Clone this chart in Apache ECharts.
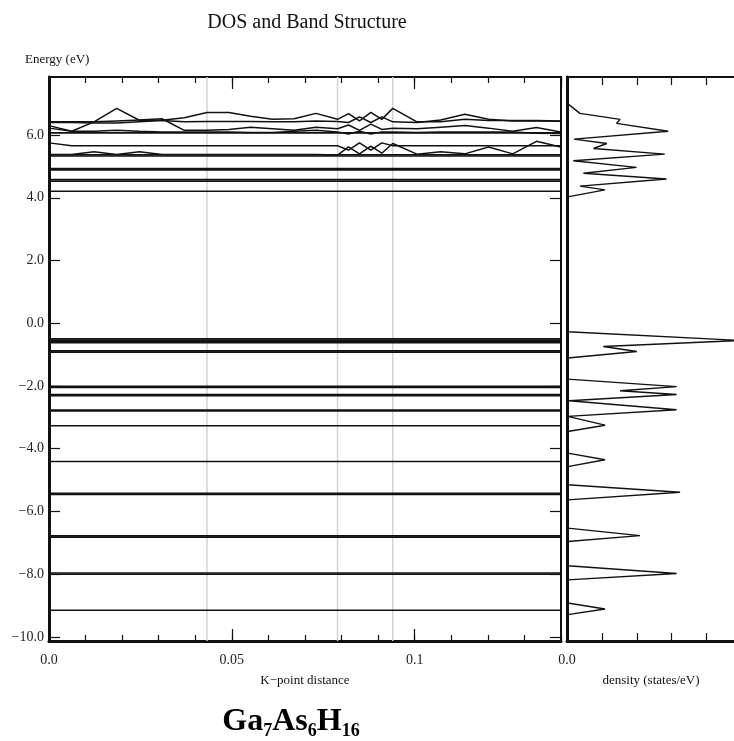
<!DOCTYPE html>
<html><head><meta charset="utf-8">
<script src="https://cdn.jsdelivr.net/npm/echarts@6/dist/echarts.min.js"></script>
<style>html,body{margin:0;padding:0;background:#fff}#c{width:734px;height:741px}</style>
</head><body><div id="c"></div>
<script>
// ---------- data ----------
const kPoints = [0, 0.0062, 0.0123, 0.0185, 0.0247, 0.0309, 0.0370, 0.0432, 0.0492, 0.0551, 0.0611, 0.0670, 0.0730, 0.0789, 0.0819, 0.0849, 0.0880, 0.0910, 0.0940, 0.1006, 0.1071, 0.1137, 0.1202, 0.1268, 0.1333, 0.1399];
const kBoundaries = [0.0432, 0.0789, 0.0940];
const kTickLabels = [0, 0.05, 0.1];
const energyTicks = [-10, -8, -6, -4, -2, 0, 2, 4, 6];
const densityTickLabels = [0];

// flat (dispersionless) bands, eV
const flatBands = [4.21, 4.53, 4.58, 4.89, 4.93, 5.33, 5.37, 6.07,
  -0.50, -0.54, -0.58, -0.62, -0.88, -0.92, -2.01, -2.05, -2.27, -2.31, -2.77, -2.80,
  -3.27, -4.41, -5.42, -5.46, -6.78, -6.82, -7.96, -8.00, -9.15];

// dispersive bands near the top, one value per k-point
const bandA = [6.42, 6.42, 6.42, 6.85, 6.47, 6.47, 6.55, 6.72, 6.72, 6.60, 6.50, 6.52, 6.69, 6.50, 6.68, 6.45, 6.72, 6.50, 6.85, 6.42, 6.42, 6.50, 6.46, 6.46, 6.46, 6.45];
const bandB = [6.40, 6.40, 6.38, 6.38, 6.42, 6.46, 6.42, 6.43, 6.43, 6.43, 6.42, 6.42, 6.45, 6.43, 6.40, 6.58, 6.40, 6.58, 6.42, 6.40, 6.48, 6.66, 6.50, 6.45, 6.45, 6.44];
const bandC = [6.30, 6.12, 6.42, 6.45, 6.48, 6.52, 6.15, 6.15, 6.18, 6.25, 6.20, 6.15, 6.25, 6.20, 6.32, 6.15, 6.35, 6.18, 6.22, 6.20, 6.25, 6.30, 6.22, 6.12, 6.24, 6.10];
const bandD = [6.22, 6.12, 6.12, 6.15, 6.12, 6.10, 6.10, 6.10, 6.10, 6.08, 6.08, 6.12, 6.15, 6.10, 6.03, 6.12, 6.03, 6.10, 6.10, 6.08, 6.10, 6.10, 6.10, 6.10, 6.06, 6.05];
const bandE = [5.75, 5.66, 5.66, 5.66, 5.66, 5.66, 5.66, 5.66, 5.66, 5.66, 5.66, 5.66, 5.66, 5.66, 5.52, 5.75, 5.52, 5.75, 5.66, 5.66, 5.66, 5.66, 5.66, 5.66, 5.66, 5.66];
const bandF = [5.38, 5.38, 5.47, 5.38, 5.47, 5.38, 5.38, 5.38, 5.38, 5.38, 5.38, 5.38, 5.38, 5.36, 5.62, 5.40, 5.65, 5.42, 5.73, 5.39, 5.47, 5.40, 5.62, 5.40, 5.80, 5.62];
const dispersiveBands = [bandA, bandB, bandC, bandD, bandE, bandF];

// density of states curve
const dosEnergy = [7.85, 7.00, 6.69, 6.50, 6.37, 6.12, 5.87, 5.73, 5.57, 5.39, 5.18, 4.97, 4.78, 4.60, 4.37, 4.25, 4.03,
  -0.27, -0.55, -0.74, -0.90, -1.11, -1.78, -2.02, -2.15, -2.27, -2.47, -2.76, -2.97, -3.25, -3.45,
  -4.14, -4.35, -4.57, -5.15, -5.39, -5.63, -6.53, -6.77, -6.96, -7.73, -7.98, -8.18, -8.92, -9.11, -9.29, -10.13];
const dosDensity = [0, 0.02, 0.37, 1.52, 1.42, 2.90, 0.20, 1.14, 0.76, 2.80, 0.18, 1.99, 0.47, 2.85, 0.37, 1.09, 0.02,
  0.02, 5.0, 1.04, 2.0, 0.02, 0.02, 3.14, 1.52, 3.14, 0.06, 3.14, 0.02, 1.09, 0.02,
  0.02, 1.09, 0.02, 0.02, 3.24, 0.02, 0.02, 2.09, 0.02, 0.02, 3.14, 0.02, 0.02, 1.09, 0.02, 0.02];

// ---------- chart ----------
const SERIF = '"Liberation Serif", "DejaVu Serif", serif';
const E_MIN = -10.13, E_MAX = 7.85;
const fmtE = v => (v < 0 ? '\u2212' + Math.abs(v).toFixed(1) : v.toFixed(1));
const fmtK = v => {
  const hit = kTickLabels.find(t => Math.abs(t - v) < 1e-9);
  if (hit === undefined) return '';
  return hit === 0 ? '0.0' : String(hit);
};

const series = [];
kBoundaries.forEach(k => series.push({
  type: 'line', xAxisIndex: 0, yAxisIndex: 0, z: 1, symbol: 'none', silent: true,
  lineStyle: { color: '#d4d4d4', width: 1.5 },
  data: [[k, E_MIN], [k, E_MAX]]
}));
flatBands.forEach(e => series.push({
  type: 'line', xAxisIndex: 0, yAxisIndex: 0, z: 3, symbol: 'none', silent: true,
  lineStyle: { color: '#111', width: 1.6 },
  data: [[kPoints[0], e], [kPoints[kPoints.length - 1], e]]
}));
dispersiveBands.forEach(b => series.push({
  type: 'line', xAxisIndex: 0, yAxisIndex: 0, z: 3, symbol: 'none', silent: true,
  lineStyle: { color: '#111', width: 1.5 },
  data: kPoints.map((k, i) => [k, b[i]])
}));
series.push({
  type: 'line', xAxisIndex: 4, yAxisIndex: 2, z: 3, symbol: 'none', silent: true,
  lineStyle: { color: '#111', width: 1.4 },
  data: dosDensity.map((d, i) => [d, dosEnergy[i]])
});

const tickStyle = { color: '#111', width: 1.2 };
const noLine = { show: false, onZero: false };
const option = {
  animation: false,
  backgroundColor: '#fff',
  grid: [
    { left: 49, top: 77, width: 512, height: 564, show: true, borderColor: '#111', borderWidth: 2,
      backgroundColor: 'transparent', outerBoundsMode: 'none', containLabel: false },
    { left: 567, top: 77, width: 209.4, height: 564, show: true, borderColor: '#111', borderWidth: 2,
      backgroundColor: 'transparent', outerBoundsMode: 'none', containLabel: false }
  ],
  xAxis: [
    { gridIndex: 0, type: 'value', position: 'bottom', min: 0, max: 0.14, interval: 0.01,
      axisLine: { onZero: false, lineStyle: { color: '#111', width: 3 } },
      axisTick: { inside: true, length: 6, lineStyle: tickStyle },
      axisLabel: { show: false }, splitLine: { show: false } },
    { gridIndex: 0, type: 'value', position: 'bottom', min: 0, max: 0.14, interval: 0.05,
      axisLine: noLine,
      axisTick: { inside: true, length: 12, lineStyle: tickStyle },
      axisLabel: { show: true, margin: 12, formatter: fmtK, color: '#222', fontFamily: SERIF, fontSize: 14, showMaxLabel: false },
      splitLine: { show: false } },
    { gridIndex: 0, type: 'value', position: 'top', min: 0, max: 0.14, interval: 0.01,
      axisLine: noLine,
      axisTick: { inside: true, length: 6, lineStyle: tickStyle },
      axisLabel: { show: false }, splitLine: { show: false } },
    { gridIndex: 0, type: 'value', position: 'top', min: 0, max: 0.14, interval: 0.05,
      axisLine: noLine,
      axisTick: { inside: true, length: 12, lineStyle: tickStyle },
      axisLabel: { show: false }, splitLine: { show: false } },
    { gridIndex: 1, type: 'value', position: 'bottom', min: 0, max: 6, interval: 1,
      axisLine: { onZero: false, lineStyle: { color: '#111', width: 3 } },
      axisTick: { inside: true, length: 8, lineStyle: tickStyle },
      axisLabel: { show: true, margin: 12, color: '#222', fontFamily: SERIF, fontSize: 14,
        formatter: v => (densityTickLabels.includes(v) ? v.toFixed(1) : '') },
      splitLine: { show: false } },
    { gridIndex: 1, type: 'value', position: 'top', min: 0, max: 6, interval: 1,
      axisLine: noLine,
      axisTick: { inside: true, length: 8, lineStyle: tickStyle },
      axisLabel: { show: false }, splitLine: { show: false } }
  ],
  yAxis: [
    { gridIndex: 0, type: 'value', position: 'left', min: E_MIN, max: E_MAX,
      axisLine: { onZero: false, lineStyle: { color: '#111', width: 3 } },
      axisTick: { inside: true, length: 11, lineStyle: tickStyle, customValues: energyTicks },
      axisLabel: { show: true, margin: 5, customValues: energyTicks, formatter: fmtE, color: '#222',
        fontFamily: SERIF, fontSize: 14, padding: [6, 0, 0, 0] },
      splitLine: { show: false } },
    { gridIndex: 0, type: 'value', position: 'right', min: E_MIN, max: E_MAX,
      axisLine: noLine,
      axisTick: { inside: true, length: 11, lineStyle: tickStyle, customValues: energyTicks },
      axisLabel: { show: false }, splitLine: { show: false } },
    { gridIndex: 1, type: 'value', position: 'left', min: E_MIN, max: E_MAX,
      axisLine: { onZero: false, lineStyle: { color: '#111', width: 3 } },
      axisTick: { show: false }, axisLabel: { show: false }, splitLine: { show: false } }
  ],
  graphic: [
    { type: 'text', x: 307, y: 23, style: { text: 'DOS and Band Structure', fill: '#111',
      font: '20px ' + SERIF, textAlign: 'center', textVerticalAlign: 'middle' } },
    { type: 'text', x: 25, y: 60, style: { text: 'Energy (eV)', fill: '#111',
      font: '13px ' + SERIF, textAlign: 'left', textVerticalAlign: 'middle' } },
    { type: 'text', x: 305, y: 681, style: { text: 'K\u2212point distance', fill: '#111',
      font: '13px ' + SERIF, textAlign: 'center', textVerticalAlign: 'middle' } },
    { type: 'text', x: 651, y: 681, style: { text: 'density (states/eV)', fill: '#111',
      font: '13px ' + SERIF, textAlign: 'center', textVerticalAlign: 'middle' } },
    { type: 'text', x: 291, y: 723, style: {
      text: '{b|Ga}{s|7}{b|As}{s|6}{b|H}{s|16}', fill: '#000', textAlign: 'center', textVerticalAlign: 'middle',
      rich: {
        b: { fontFamily: SERIF, fontWeight: 'bold', fontSize: 32, lineHeight: 34, verticalAlign: 'top', fill: '#000' },
        s: { fontFamily: SERIF, fontWeight: 'bold', fontSize: 18, lineHeight: 18, verticalAlign: 'bottom', fill: '#000' }
      } } }
  ],
  series: series
};
const chart = echarts.init(document.getElementById('c'), null, { renderer: 'canvas' });
chart.setOption(option);
</script>
</body></html>
